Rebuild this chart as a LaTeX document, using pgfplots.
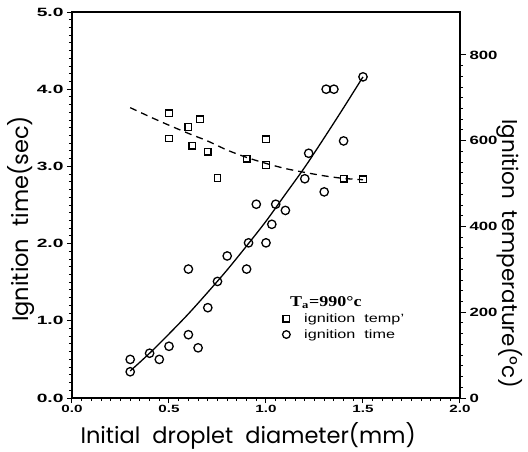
\documentclass[border=0pt]{standalone}
\usepackage{graphicx}
\usepackage{pgfplots}
\pgfplotsset{compat=1.18}
\usepackage{fontspec}
\setmainfont{Liberation Sans}
\newfontfamily\labfont{Poppins}
\newfontfamily\serifb{Liberation Serif}

\pgfplotstableread{
x y
0.30 0.50
0.30 0.34
0.40 0.58
0.45 0.50
0.50 0.67
0.60 1.67
0.60 0.82
0.65 0.65
0.70 1.17
0.75 1.51
0.80 1.84
0.90 1.67
0.91 2.01
0.95 2.51
1.00 2.01
1.03 2.25
1.05 2.51
1.10 2.43
1.20 2.84
1.22 3.17
1.30 2.67
1.31 4.00
1.35 4.00
1.40 3.33
1.50 4.16
}\timedata

\pgfplotstableread{
x y
0.30 0.35
0.40 0.58
0.50 0.83
0.60 1.09
0.70 1.37
0.80 1.66
0.90 1.97
1.00 2.29
1.10 2.64
1.20 2.99
1.30 3.37
1.40 3.76
1.50 4.16
}\timefit

\pgfplotstableread{
x y
0.50 664
0.50 605
0.60 632
0.66 650
0.62 588
0.70 574
0.75 513
0.90 558
1.00 603
1.00 543
1.40 511
1.50 510
}\tempdata

\pgfplotstableread{
x y
0.30 677
0.40 656
0.50 636
0.60 617
0.70 599
0.80 578
0.90 561
1.00 547
1.10 535
1.20 526
1.30 518
1.40 512
1.50 509
}\tempfit

\begin{document}
\begin{tikzpicture}
\useasboundingbox (-72pt,-53pt) rectangle (456pt,398pt);
\begin{axis}[
  scale only axis, width=388pt, height=386pt,
  xmin=0, xmax=2, ymin=0, ymax=5,
  xtick={0,0.5,...,2}, ytick={0,1,...,5},
  minor x tick num=9, minor y tick num=9,
  xtick pos=left, ytick pos=left,
  tick align=outside,
  major tick length=5pt, minor tick length=3pt,
  every tick/.style={black, line width=1pt},
  axis line style={line width=1.4pt},
  xticklabel={\scalebox{1.45}[1]{\pgfmathprintnumber[fixed,fixed zerofill,precision=1,assume math mode=true]{\tick}}},
  yticklabel={\scalebox{1.6}[1]{\pgfmathprintnumber[fixed,fixed zerofill,precision=1,assume math mode=true]{\tick}}},
  xticklabel style={font=\bfseries\fontsize{10.5}{12}\selectfont, yshift=1pt},
  yticklabel style={font=\bfseries\fontsize{12}{14}\selectfont},
  xlabel={Initial\ \ droplet\ \ diameter(mm)},
  ylabel={Ignition\ \ time(sec)},
  every axis x label/.style={at={(axis description cs:0.454,-0.099)}, anchor=center, font=\labfont\fontsize{22.5}{26}\selectfont},
  every axis y label/.style={at={(axis description cs:-0.131,0.464)}, anchor=center, rotate=90, font=\labfont\fontsize{22.5}{26}\selectfont},
]
\addplot[only marks, mark=o, mark size=4.2pt, line width=1.3pt] table[x=x,y=y] {\timedata};
\addplot[smooth, line width=1.3pt] table[x=x,y=y] {\timefit};
\end{axis}
\begin{axis}[
  scale only axis, width=388pt, height=386pt,
  xmin=0, xmax=2, ymin=0, ymax=900,
  hide x axis,
  axis line style={draw=none},
  ytick={0,200,...,800}, minor y tick num=7,
  ytick pos=right, yticklabel pos=right,
  tick align=outside,
  major tick length=6pt, minor tick length=3pt,
  every tick/.style={black, line width=1pt},
  yticklabel={\scalebox{1.4}[1]{\pgfmathprintnumber[assume math mode=true]{\tick}}},
  yticklabel style={font=\bfseries\fontsize{12}{14}\selectfont},
  ylabel={Ignition\ \ temperature(°c)},
  every axis y label/.style={at={(axis description cs:1.129,0.373)}, anchor=center, rotate=-90, font=\labfont\fontsize{21.5}{24}\selectfont},
  legend style={at={(axis description cs:0.53,0.268)}, anchor=north west, draw=none, fill=none,
    font=\fontsize{12}{13}\selectfont, row sep=1.5pt, inner sep=0pt},
  legend cell align=left,
]
\addlegendimage{empty legend}
\addlegendentry{\hspace*{-2pt}\scalebox{1.2}[1]{\serifb\bfseries\fontsize{15}{16}\selectfont T\textsubscript{a}=990°c}}
\addplot[only marks, mark=square, mark size=3.3pt, line width=1.3pt] table[x=x,y=y] {\tempdata};
\addlegendentry{\hspace*{12pt}\scalebox{1.35}[1]{ignition\ \ temp'}}
\addplot[smooth, line width=1.3pt, dash pattern=on 7pt off 5pt, forget plot] table[x=x,y=y] {\tempfit};
\addlegendimage{only marks, mark=o, mark size=3.8pt, line width=1.3pt}
\addlegendentry{\hspace*{12pt}\scalebox{1.35}[1]{ignition\ \ time}}
\end{axis}
\end{tikzpicture}
\end{document}
